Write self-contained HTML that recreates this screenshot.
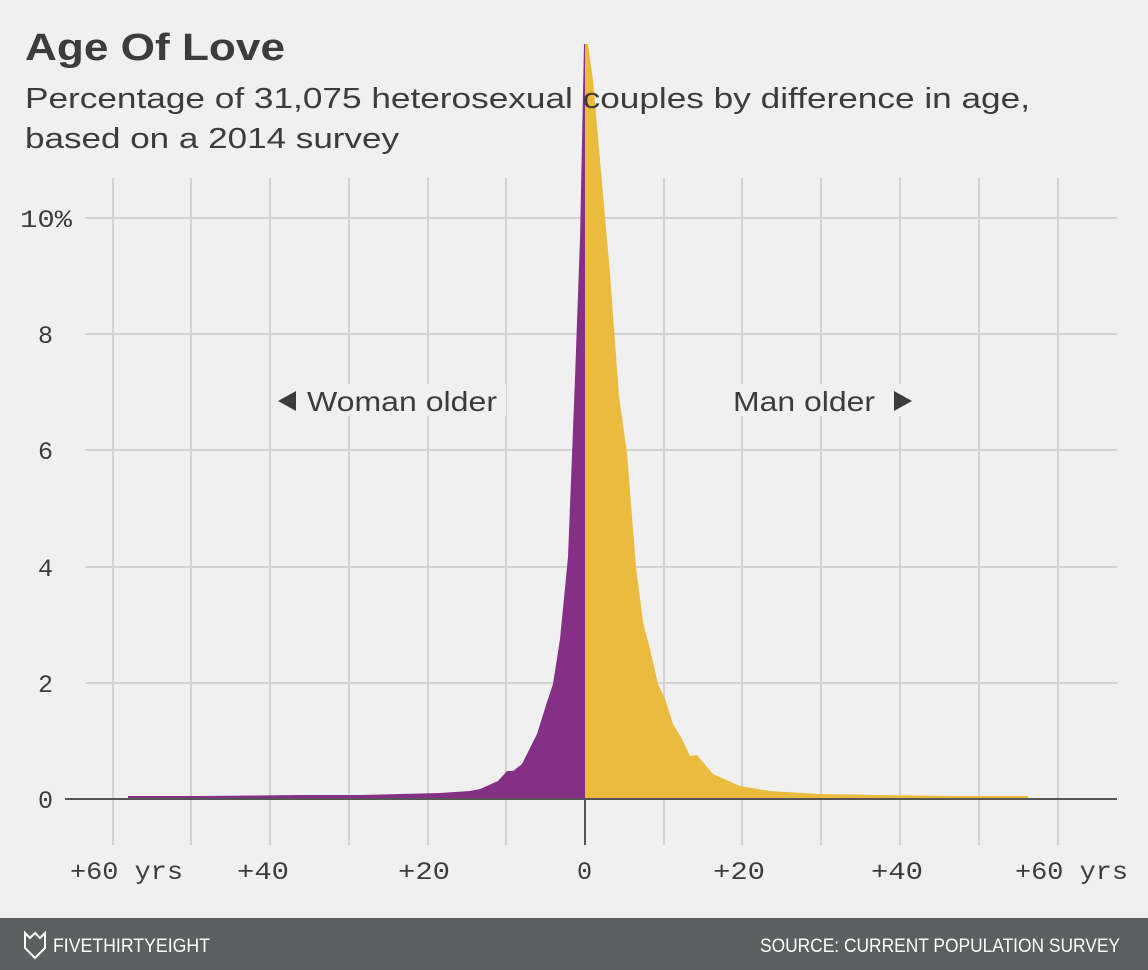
<!DOCTYPE html>
<html><head><meta charset="utf-8"><style>
body{margin:0;background:#f0f0f0;}
svg{display:block}
</style></head><body>
<svg width="1148" height="970" viewBox="0 0 1148 970" xmlns="http://www.w3.org/2000/svg">
<rect width="1148" height="970" fill="#f0f0f0"/>
<g stroke="#d2d2d2" stroke-width="2">
<line x1="85" y1="218" x2="1117" y2="218"/>
<line x1="85" y1="334" x2="1117" y2="334"/>
<line x1="85" y1="450" x2="1117" y2="450"/>
<line x1="85" y1="567" x2="1117" y2="567"/>
<line x1="85" y1="683" x2="1117" y2="683"/>
<line x1="113" y1="178" x2="113" y2="845"/>
<line x1="191" y1="178" x2="191" y2="845"/>
<line x1="270" y1="178" x2="270" y2="845"/>
<line x1="349" y1="178" x2="349" y2="845"/>
<line x1="428" y1="178" x2="428" y2="845"/>
<line x1="506" y1="178" x2="506" y2="845"/>
<line x1="664" y1="178" x2="664" y2="845"/>
<line x1="742" y1="178" x2="742" y2="845"/>
<line x1="821" y1="178" x2="821" y2="845"/>
<line x1="900" y1="178" x2="900" y2="845"/>
<line x1="979" y1="178" x2="979" y2="845"/>
<line x1="1058" y1="178" x2="1058" y2="845"/>
</g>
<rect x="275" y="384" width="231" height="32" fill="#f0f0f0"/>
<rect x="722" y="384" width="196" height="32" fill="#f0f0f0"/>
<path d="M128,796 L200,796 L300,795 L360,795 L400,794 L440,793 L470,791 L480,789 L498,781 L507,771 L513,771 L522,764 L537,734 L547,702 L553,684 L560,639 L568,557 L575,378 L580,239 L584,44 L585,44 L585,800 L128,800 Z" fill="#843086"/>
<path d="M585,44 L588,44 L593,80 L610,274 L619,396 L627,453 L636,567 L643,622 L650,649 L658,684 L665,699 L673,724 L682,739 L690,756 L697,755 L713,774 L740,786 L770,791 L820,794 L880,795 L960,796 L1028,796 L1028,800 L585,800 Z" fill="#ebbb40"/>
<line x1="65" y1="799" x2="1117" y2="799" stroke="#555" stroke-width="2"/>
<line x1="585" y1="799" x2="585" y2="845" stroke="#555" stroke-width="2"/>
<g font-family="Liberation Sans, sans-serif" fill="#3c3c3c">
<text x="25" y="60" font-size="38" font-weight="bold" textLength="260" lengthAdjust="spacingAndGlyphs">Age Of Love</text>
<text x="25" y="108" font-size="29" textLength="1005" lengthAdjust="spacingAndGlyphs">Percentage of 31,075 heterosexual couples by difference in age,</text>
<text x="25" y="148" font-size="29" textLength="374" lengthAdjust="spacingAndGlyphs">based on a 2014 survey</text>
<text x="307" y="411" font-size="28" textLength="190" lengthAdjust="spacingAndGlyphs">Woman older</text>
<text x="733" y="411" font-size="28" textLength="142" lengthAdjust="spacingAndGlyphs">Man older</text>
</g>
<path d="M278,401 L296,391 L296,411 Z" fill="#3c3c3c"/>
<path d="M912,401 L894,391 L894,411 Z" fill="#3c3c3c"/>
<g font-family="Liberation Mono, monospace" font-size="25" fill="#3c3c3c">
<text x="20" y="227" textLength="52" lengthAdjust="spacingAndGlyphs">10%</text>
<text x="38" y="343">8</text>
<text x="38" y="459">6</text>
<text x="38" y="576">4</text>
<text x="38" y="692">2</text>
<text x="38" y="808">0</text>
<text x="70" y="879" textLength="113" lengthAdjust="spacingAndGlyphs">+60 yrs</text>
<text x="237" y="879" textLength="52" lengthAdjust="spacingAndGlyphs">+40</text>
<text x="398" y="879" textLength="52" lengthAdjust="spacingAndGlyphs">+20</text>
<text x="577" y="879">0</text>
<text x="713" y="879" textLength="52" lengthAdjust="spacingAndGlyphs">+20</text>
<text x="871" y="879" textLength="52" lengthAdjust="spacingAndGlyphs">+40</text>
<text x="1015" y="879" textLength="113" lengthAdjust="spacingAndGlyphs">+60 yrs</text>
</g>
<rect x="0" y="918" width="1148" height="52" fill="#5c6060"/>
<path d="M25,933 L30,938 L35,933 L40,938 L45,933 L45,948 L35,958 L25,948 Z" fill="none" stroke="#fff" stroke-width="2"/>
<g font-family="Liberation Sans, sans-serif" font-size="19" fill="#fff">
<text x="53" y="952" textLength="157" lengthAdjust="spacingAndGlyphs">FIVETHIRTYEIGHT</text>
<text x="760" y="952" textLength="360" lengthAdjust="spacingAndGlyphs">SOURCE: CURRENT POPULATION SURVEY</text>
</g>
</svg>
</body></html>
